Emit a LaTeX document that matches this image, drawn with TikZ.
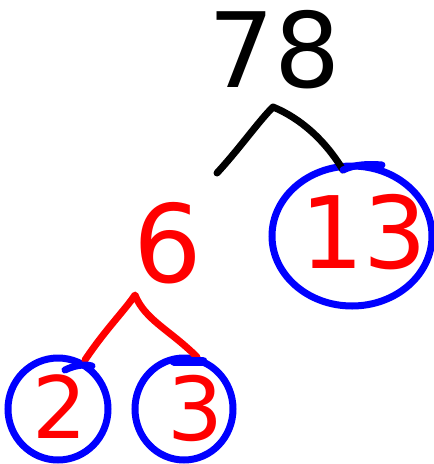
\documentclass[tikz,border=0pt]{standalone}
\usepackage{fontspec}
\setmainfont{DejaVu Sans}
\usetikzlibrary{shapes.geometric}
\begin{document}
\begin{tikzpicture}[x=1pt,y=-1pt,
  stroke/.style={line width=7pt,line cap=round,line join=round},
  ring/.style={draw=blue,line width=7pt,ellipse,inner sep=0pt},
  num/.style={inner sep=0pt,font=\fontsize{#1}{#1}\selectfont}]
\useasboundingbox (0,0) rectangle (434,464);
% numbers
\node[num=104] (n78) at (275,50) {78};
\node[num=100,text=red] (n13) at (364,232) {13};
\node[num=108,text=red] (n6) at (168,243) {6};
\node[num=86,text=red] (n2) at (60,407) {2};
\node[num=88,text=red] (n3) at (195,408) {3};
% circles
\node[ring,minimum width=160pt,minimum height=140pt] (c13) at (352,236) {};
\node[ring,minimum width=100pt,minimum height=102pt] (c2) at (58,409) {};
\node[ring,minimum width=98pt,minimum height=102pt] (c3) at (184,409) {};
% branch points
\coordinate (p78) at (273,107);
\coordinate (l78) at (217,173);
\coordinate (r78) at (343,170);
\coordinate (p6) at (135,295);
\coordinate (l6) at (85,360);
\coordinate (r6) at (197,357);
% black caret
\draw[stroke] (l78) .. controls (240,148) and (258,122) .. (p78)
  .. controls (300,118) and (325,140) .. (r78);
% red caret
\draw[stroke,red] (l6) .. controls (105,330) and (125,310) .. (p6)
  .. controls (145,320) and (170,330) .. (r6);
% blue ticks
\draw[stroke,blue] (r78) .. controls (355,164) and (370,164) .. (382,165);
\draw[stroke,blue] (65,370) .. controls (75,365) and (85,364) .. (92,366);
\draw[stroke,blue,line width=9pt] (174,361) -- (203,361);
\end{tikzpicture}
\end{document}
